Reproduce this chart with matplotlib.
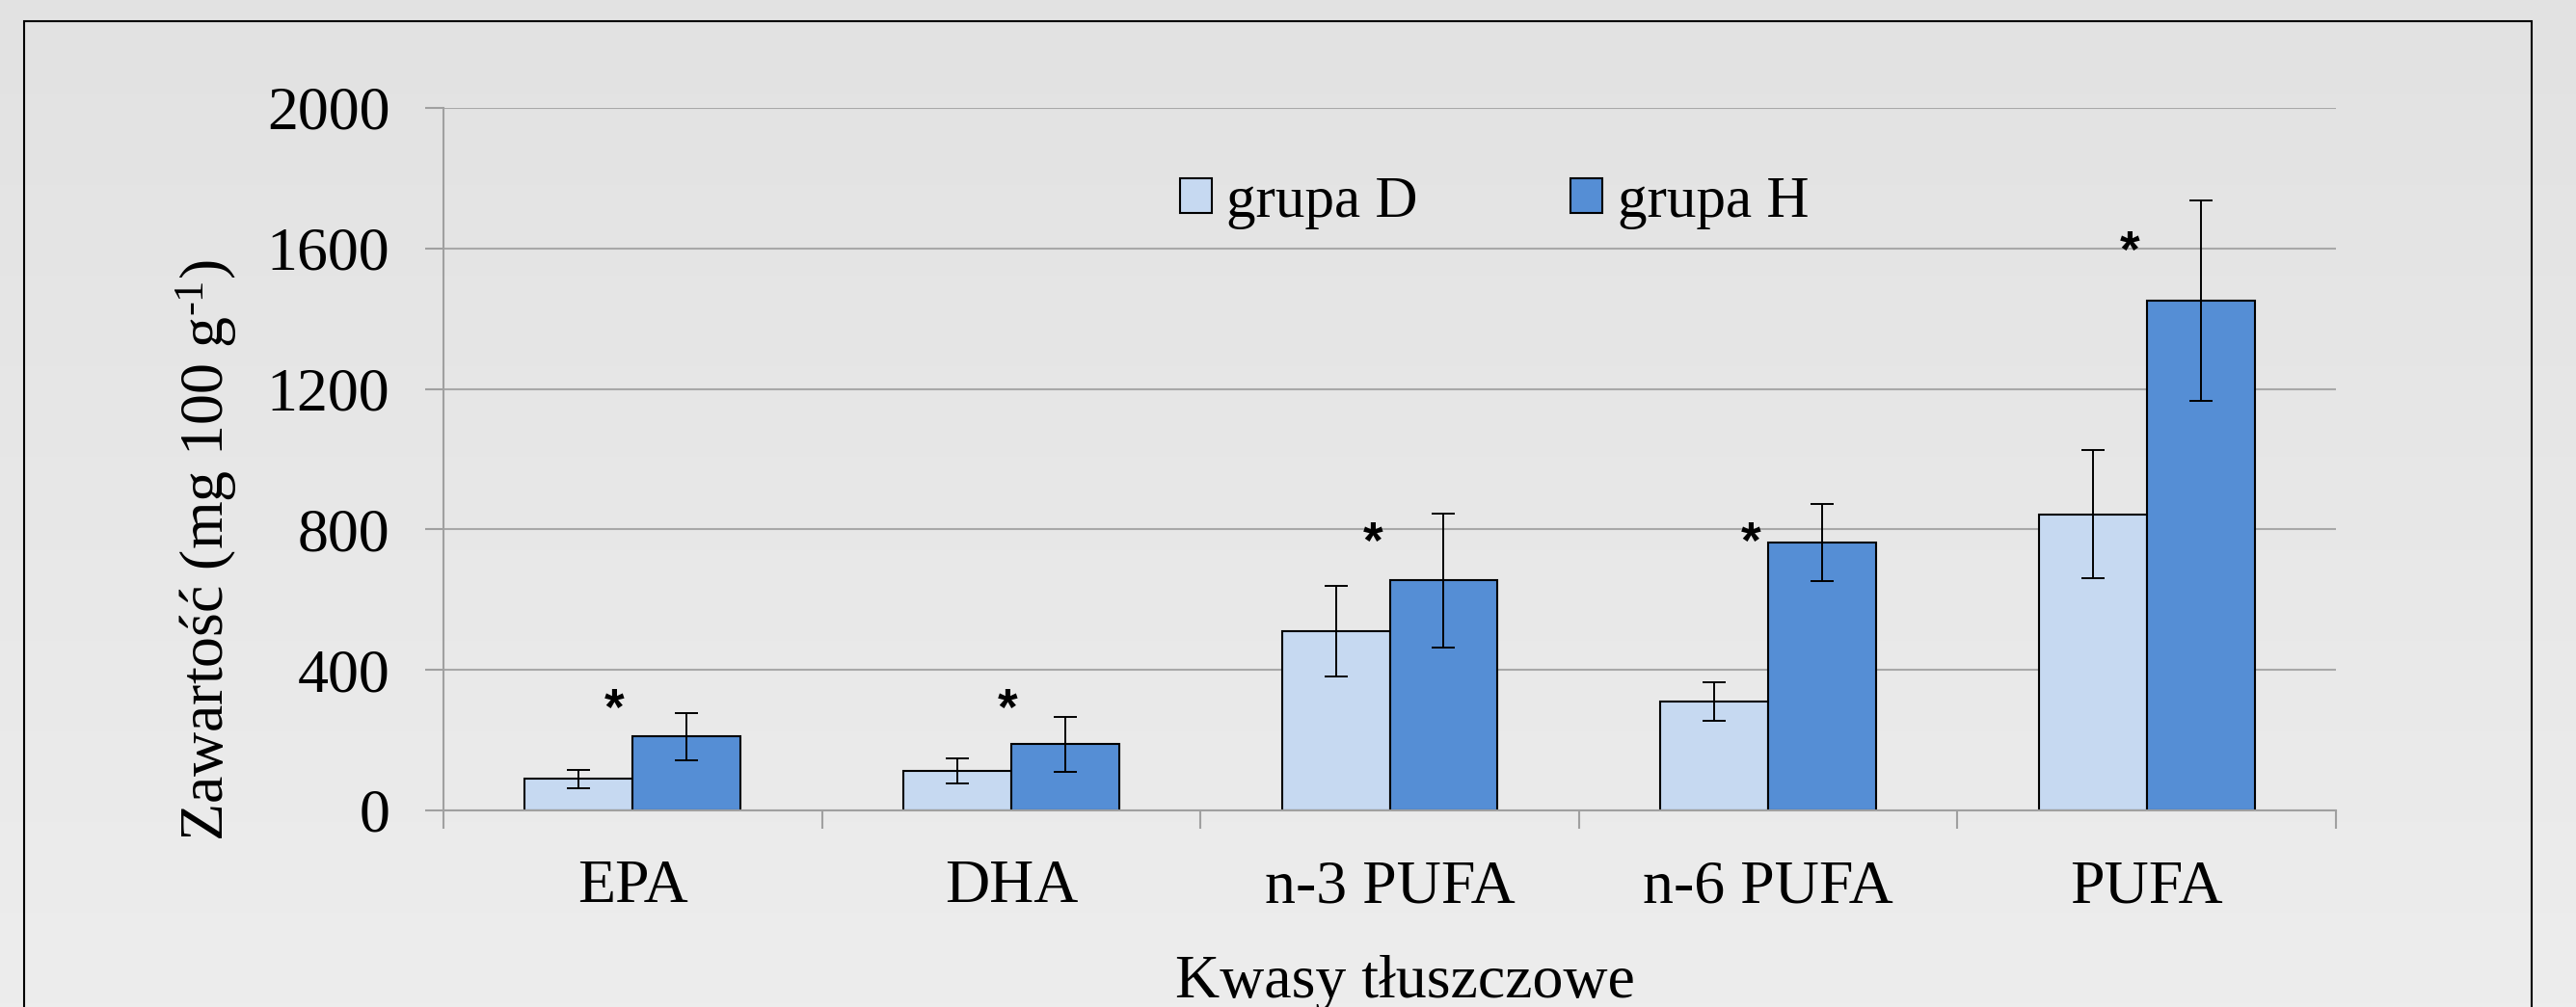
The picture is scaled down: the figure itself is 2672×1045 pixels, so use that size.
import numpy as np
import matplotlib
matplotlib.use('Agg')
import matplotlib.pyplot as plt
from matplotlib.patches import Rectangle
from matplotlib.transforms import offset_copy

plt.rcParams['font.family'] = ['Liberation Serif', 'DejaVu Serif']
plt.rcParams['mathtext.fontset'] = 'custom'
plt.rcParams['mathtext.rm'] = 'Liberation Serif'
plt.rcParams['mathtext.it'] = 'Liberation Serif:italic'

# data
categories = ['EPA', 'DHA', 'n-3 PUFA', 'n-6 PUFA', 'PUFA']
grupa_d = [90, 112, 510, 310, 843]
grupa_d_err = [26, 36, 130, 55, 183]
grupa_h = [210, 188, 655, 763, 1451]
grupa_h_err = [66, 77, 190, 110, 285]
star_x = [-0.05, 0.99, 1.955, 2.955, 3.955]
star_y = [318, 318, 792, 792, 1620]
yticks = [0, 400, 800, 1200, 1600, 2000]

col_d = '#c6d9f1'
col_h = '#558ed5'
axis_col = '#a0a0a0'
fs = 46

fig = plt.figure(figsize=(26.72, 10.45), dpi=100)

# background gradient
bg = fig.add_axes([0, 0, 1, 1], zorder=-10)
grad = np.linspace(0, 1, 256).reshape(-1, 1)
bg.imshow(grad, aspect='auto', cmap=matplotlib.colors.LinearSegmentedColormap.from_list('g', ['#e2e2e2', '#ededed']),
          extent=[0, 1, 0, 1], origin='upper')
bg.set_xlim(0, 1)
bg.set_ylim(0, 1)
bg.axis('off')
fig.patches.append(Rectangle((25/2672, -0.1), (2626-25)/2672, 1.1 - 22/1045, transform=fig.transFigure,
                             fill=False, edgecolor='black', lw=1.5, zorder=5))

ax = fig.add_axes([0.17216, 0.19522, 0.73466, 0.69761])
ax.patch.set_alpha(0)

x = np.arange(len(categories))
w = 0.285
ax.bar(x - w/2, grupa_d, w, color=col_d, edgecolor='black', lw=1.5, label='grupa D', zorder=2)
ax.bar(x + w/2, grupa_h, w, color=col_h, edgecolor='black', lw=1.5, label='grupa H', zorder=2)
ax.errorbar(x - w/2, grupa_d, yerr=grupa_d_err, fmt='none', ecolor='black', elinewidth=1.4,
            capsize=8.5, capthick=1.4, zorder=3)
ax.errorbar(x + w/2, grupa_h, yerr=grupa_h_err, fmt='none', ecolor='black', elinewidth=1.4,
            capsize=8.5, capthick=1.4, zorder=3)

star_tr = offset_copy(ax.transData, fig=fig, y=-19, units='points')
for sx, sy in zip(star_x, star_y):
    ax.text(sx, sy, '*', fontsize=38, fontweight='bold', family='Liberation Sans',
            ha='center', va='baseline', transform=star_tr)

ax.set_xlim(-0.5, len(categories) - 0.5)
ax.set_ylim(0, 2000)
ax.set_yticks(yticks)
ax.set_xticks(np.arange(-0.5, len(categories), 1))
ax.set_xticklabels([])
ax.set_xticks(x, labels=categories, minor=True)
ax.tick_params(axis='x', which='major', direction='out', length=14, width=1.5, color=axis_col)
ax.tick_params(axis='x', which='minor', length=0, pad=37, labelsize=fs)
ax.tick_params(axis='y', direction='out', length=14, width=1.5, color=axis_col, pad=26, labelsize=fs)

ax.yaxis.grid(True, color='#a8a8a8', lw=1.5)
ax.set_axisbelow(True)
for s in ['top', 'right']:
    ax.spines[s].set_visible(False)
for s in ['left', 'bottom']:
    ax.spines[s].set_color(axis_col)
    ax.spines[s].set_linewidth(1.5)

ax.set_xlabel('Kwasy tłuszczowe', fontsize=fs)
ax.xaxis.label.set_va('baseline')
ax.xaxis.set_label_coords(0.5079, -0.2661)
ax.set_ylabel(r'Zawartość (mg 100 g$^{\text{-1}}$)', fontsize=fs)
ax.yaxis.label.set_va('baseline')
ax.yaxis.set_label_coords(-0.1161, 0.3704)

ax.legend(loc='center', bbox_to_anchor=(1550/2672, 1 - 210/1045), bbox_transform=fig.transFigure,
          ncol=2, frameon=False, fontsize=44, handlelength=0.54, handleheight=0.54,
          handletextpad=0.25, columnspacing=2.6, borderpad=0, borderaxespad=0)

plt.savefig('out.png', dpi=100)
